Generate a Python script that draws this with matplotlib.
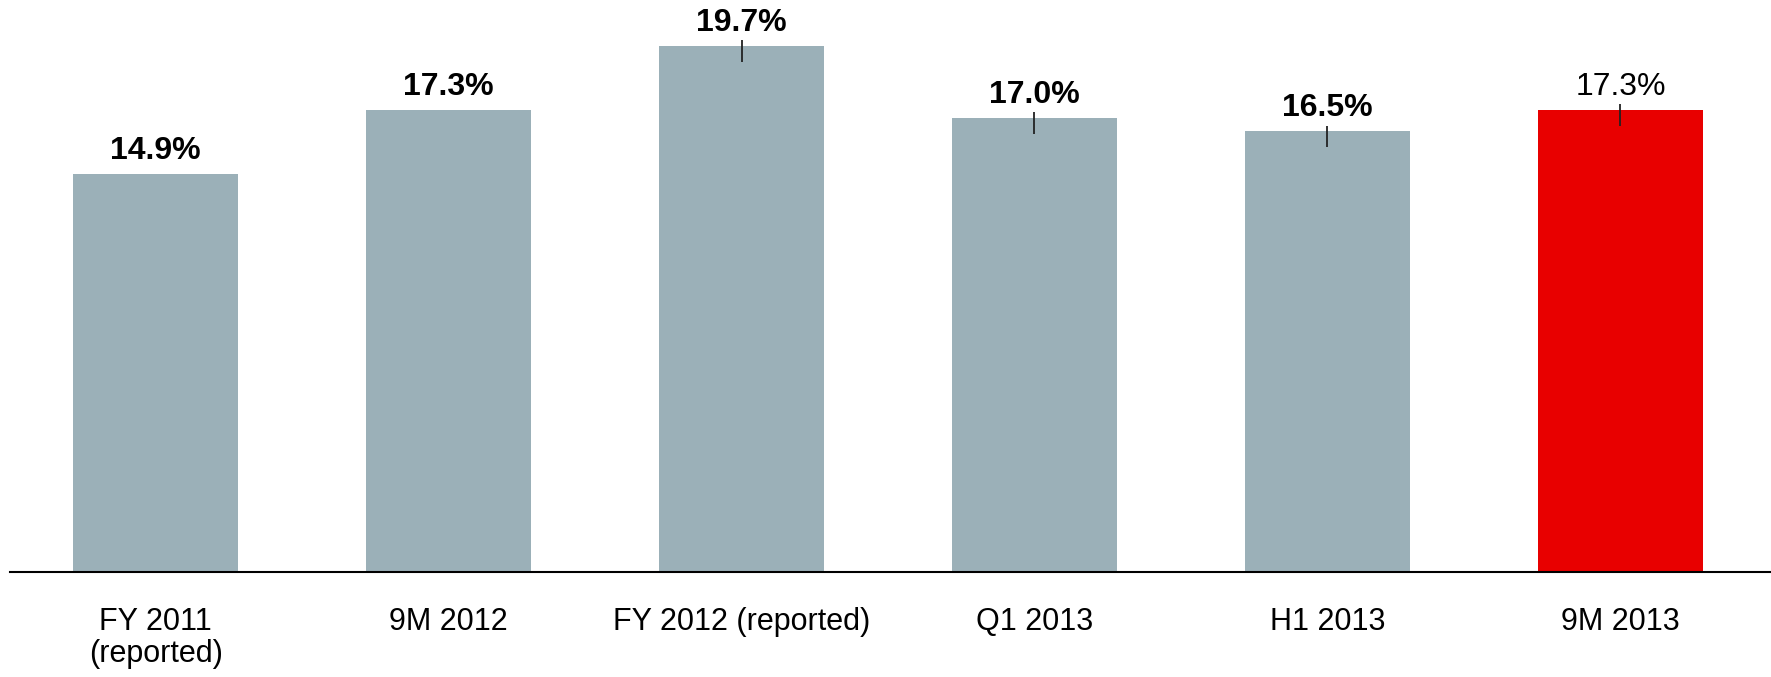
import matplotlib
matplotlib.use("Agg")
import matplotlib.pyplot as plt

plt.rcParams['font.family'] = ['Liberation Sans', 'DejaVu Sans']

categories = ["FY 2011\n(reported)", "9M 2012", "FY 2012 (reported)", "Q1 2013", "H1 2013", "9M 2013"]
values = [14.9, 17.3, 19.7, 17.0, 16.5, 17.3]
labels = ["14.9%", "17.3%", "19.7%", "17.0%", "16.5%", "17.3%"]
bar_colors = ["#9BB0B8"] * 5 + ["#E80000"]
label_bold = [True, True, True, True, True, False]
has_stub = [False, False, True, True, True, True]

fig = plt.figure(figsize=(17.71, 6.77), dpi=100)
ax = fig.add_axes([10 / 1771, 105 / 677, 1761 / 1771, 572 / 677])

x = list(range(len(categories)))
ax.bar(x, values, width=0.563, color=bar_colors, zorder=2)

# small marker stubs at the bar tops
for i, v in enumerate(values):
    if has_stub[i]:
        ax.vlines(i, v - 0.6, v + 0.22, color="#222222", linewidth=1.3, zorder=3)
    ax.text(i, v + 0.3, labels[i], ha="center", va="bottom", fontsize=23,
            fontweight="bold" if label_bold[i] else "normal", color="black")

ax.set_xlim(-0.497, 5.514)
ax.set_ylim(0, 21.42)
ax.set_xticks(x)
ax.set_xticklabels(categories, fontsize=22, linespacing=1.1)
ax.tick_params(axis="x", length=0, pad=25)
ax.set_yticks([])
for side in ["top", "right", "left"]:
    ax.spines[side].set_visible(False)
ax.spines["bottom"].set_linewidth(1.5)
ax.spines["bottom"].set_color("black")

fig.savefig("out.png", dpi=100)
